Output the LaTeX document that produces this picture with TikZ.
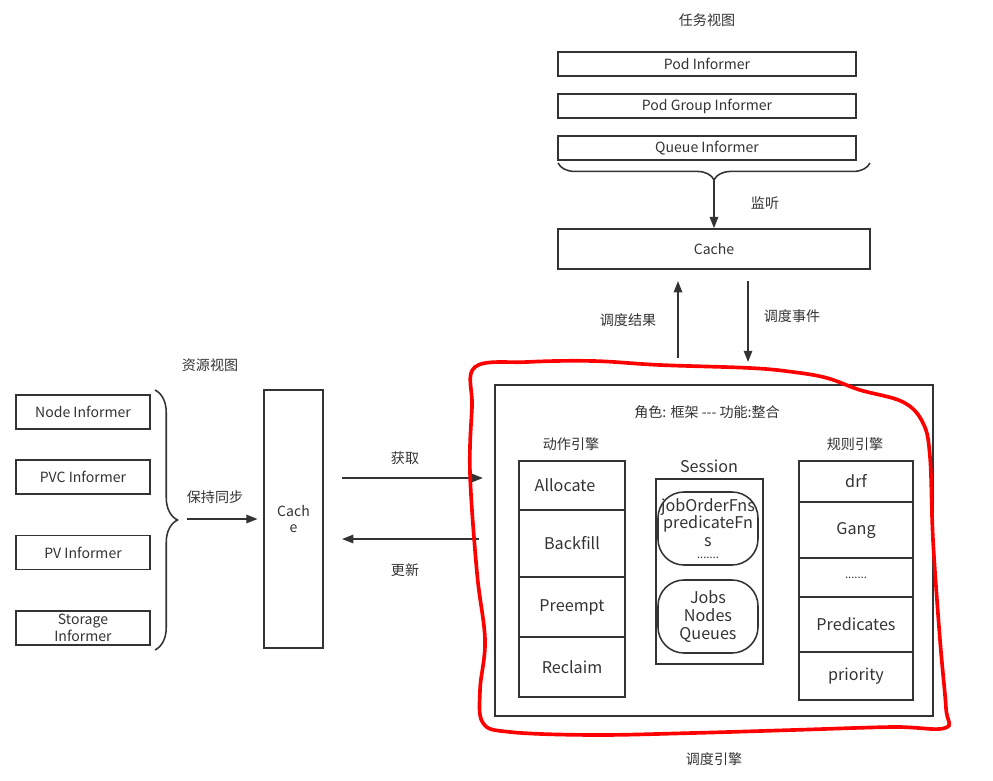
\documentclass[tikz,border=0pt]{standalone}
\usepackage{fontspec}
\setmainfont{Noto Sans CJK SC}
\usetikzlibrary{arrows.meta,decorations.pathreplacing}

\begin{document}
\begin{tikzpicture}[x=0.025cm,y=-0.025cm,color=black!80,line width=1.1pt,
  >={Triangle[length=8pt,width=6pt]},
  box/.style={draw,inner sep=0pt},
  lbl/.style={font=\fontsize{10}{12}\selectfont},
  cell/.style={box,font=\fontsize{11.5}{12.5}\selectfont,align=center},
  oval/.style={cell,rounded corners=0.65cm,minimum width=2.5cm,minimum height=1.825cm}]
\useasboundingbox (0,0) rectangle (993,781);

% task view
\node[lbl] (tview) at (707,20) {任务视图};
\node[box,lbl,minimum width=7.45cm,minimum height=0.6cm] (pod) at (707,64) {Pod Informer};
\node[box,lbl,minimum width=7.45cm,minimum height=0.6cm] (podgroup) at (707,106) {Pod Group Informer};
\node[box,lbl,minimum width=7.45cm,minimum height=0.6cm] (queue) at (707,148) {Queue Informer};
\draw[decorate,decoration={brace,mirror,amplitude=12pt}] (558,163) -- (870,163);
\coordinate (tbrace) at (714,180);
\node[box,lbl,minimum width=7.8cm,minimum height=1cm] (cacheT) at (714,249) {Cache};
\draw[->] (tbrace) -- (cacheT);
\node[lbl] (listen) at (765,203) {监听};

\coordinate (resS) at (678,358);
\coordinate (evtE) at (748,362);
\draw[->,shorten >=8pt] (resS) -- (resS |- cacheT.south);
\draw[->,shorten <=8pt] (evtE |- cacheT.south) -- (evtE);
\node[lbl] (result) at (628,320) {调度结果};
\node[lbl] (event) at (792,316) {调度事件};

% resource view
\node[lbl] (rview) at (210,365) {资源视图};
\node[box,lbl,minimum width=3.35cm,minimum height=0.85cm] (node) at (83,412) {Node Informer};
\node[box,lbl,minimum width=3.35cm,minimum height=0.85cm] (pvc) at (83,477) {PVC Informer};
\node[box,lbl,minimum width=3.35cm,minimum height=0.85cm] (pv) at (83,552.5) {PV Informer};
\node[box,lbl,minimum width=3.35cm,minimum height=0.85cm,align=center] (storage) at (83,628) {Storage\\Informer};
\draw[decorate,decoration={brace,amplitude=16pt}] (155,390) -- (155,650);
\coordinate (lbrace) at (187,519);
\node[box,lbl,minimum width=1.475cm,minimum height=6.45cm,align=center] (cacheL) at (293.5,519) {Cach\\e};
\draw[->,shorten >=4pt] (lbrace) -- (cacheL.west |- lbrace);
\node[lbl] (sync) at (215,497) {保持同步};

% scheduler engine
\node[box,minimum width=10.95cm,minimum height=8.275cm] (engine) at (714,550.5) {};
\node[lbl] (role) at (707,412) {角色: 框架 {-}{-}{-} 功能:整合};
\node[lbl] (action) at (571,444) {动作引擎};
\node[lbl] (rule) at (855,444) {规则引擎};

\node[cell,minimum width=2.65cm,minimum height=1.225cm] (alloc) at (572,485.5) {Allocate\hspace*{10pt}};
\node[cell,minimum width=2.65cm,minimum height=1.675cm] (backfill) at (572,543.5) {Backfill};
\node[cell,minimum width=2.65cm,minimum height=1.5cm] (preempt) at (572,607) {Preempt};
\node[cell,minimum width=2.65cm,minimum height=1.5cm] (reclaim) at (572,667) {Reclaim};

\node[lbl,font=\fontsize{11.5}{13}\selectfont] (sesslbl) at (709,466) {Session};
\node[box,minimum width=2.675cm,minimum height=4.625cm] (session) at (709.5,571.5) {};
\node[oval] (fns) at (708,528.5) {jobOrderFns\\predicateFn\\s\\[-4pt]{\footnotesize .......}};
\node[oval] (objs) at (708,616.5) {Jobs\\Nodes\\Queues};

\node[cell,minimum width=2.85cm,minimum height=1.025cm] (drf) at (856,481.5) {drf};
\node[cell,minimum width=2.85cm,minimum height=1.4cm] (gang) at (856,530) {Gang};
\node[cell,minimum width=2.85cm,minimum height=0.975cm] (more) at (856,577.5) {\footnotesize .......};
\node[cell,minimum width=2.85cm,minimum height=1.375cm] (pred) at (856,624.5) {Predicates};
\node[cell,minimum width=2.85cm,minimum height=1.2cm] (prio) at (856,676) {priority};
\node[lbl] (engname) at (714,759) {调度引擎};

% get / update
\coordinate (getS) at (342,478);
\coordinate (updE) at (342,539);
\draw[->,shorten >=8pt] (getS) -- (getS -| engine.west);
\draw[->,shorten <=11pt] (updE -| engine.west) -- (updE);
\node[lbl] (get) at (405,458) {获取};
\node[lbl] (update) at (405,570) {更新};

% hand drawn outline
\draw[red,line width=2.6pt] plot[smooth cycle,tension=0.6] coordinates {(475,367) (527,362)
  (593,361) (660,365) (750,368) (793,372) (827,378) (860,390) (903,402) (923,423) (930,457)
  (933,540) (940,640) (946,708) (945,728) (893,727) (793,730) (693,733) (593,735) (510,732)
  (483,723) (480,690) (485,640) (477,573) (470,473) (472,407)};
\end{tikzpicture}
\end{document}
